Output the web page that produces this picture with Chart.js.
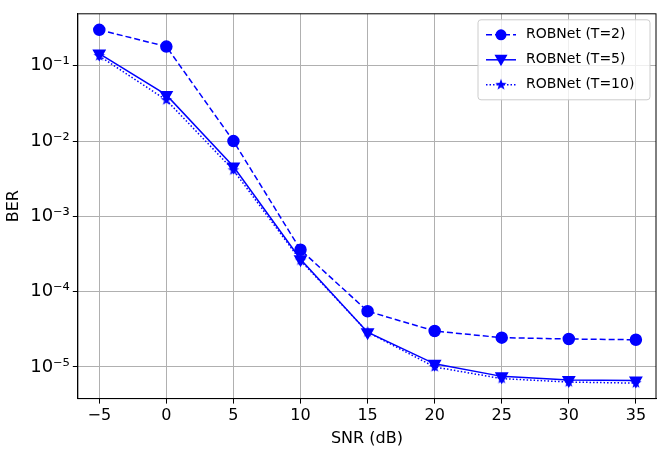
<!DOCTYPE html>
<html><head><script src="https://cdn.jsdelivr.net/npm/chart.js@4"></script>
<style>body{margin:0;background:#fff}#w{width:664px;height:452px}</style></head>
<body><div id="w"><canvas id="c"></canvas></div>
<script>
const snr=[-5,0,5,10,15,20,25,30,35];
const berT2=[0.30,0.18,0.010,3.6e-4,5.5e-5,3.0e-5,2.45e-5,2.35e-5,2.3e-5];
const berT5=[0.145,0.041,4.6e-3,2.7e-4,2.9e-5,1.1e-5,7.5e-6,6.7e-6,6.6e-6];
const berT10=[0.135,0.035,4.1e-3,2.6e-4,2.9e-5,1.0e-5,7.0e-6,6.3e-6,6.1e-6];
const labels=['ROBNet (T=2)','ROBNet (T=5)','ROBNet (T=10)'];
const blue='#0000ff';
function star(r){const c=document.createElement('canvas');c.width=c.height=2*r+2;const g=c.getContext('2d');g.fillStyle=blue;g.beginPath();
for(let i=0;i<10;i++){const a=-Math.PI/2+i*Math.PI/5,rr=i%2?r*0.4:r;g.lineTo(r+1+rr*Math.cos(a),r+1+rr*Math.sin(a));}g.closePath();g.fill();return c;}
const starImg=star(6);
const mk=(a)=>a.map((v,i)=>({x:snr[i],y:v}));
const sup={'-':'⁻','0':'⁰','1':'¹','2':'²','3':'³','4':'⁴','5':'⁵','6':'⁶'};
const ds=[
{label:labels[0],data:mk(berT2),borderDash:[6,3],pointStyle:'circle',pointRadius:5.5},
{label:labels[1],data:mk(berT5),borderDash:[],pointStyle:'triangle',rotation:180,pointRadius:6.5},
{label:labels[2],data:mk(berT10),borderDash:[1.5,2],pointStyle:starImg,pointRadius:6}
].map(d=>Object.assign({borderColor:blue,backgroundColor:blue,borderWidth:1.5,pointBorderColor:blue,pointBackgroundColor:blue},d));
const legendPlugin={id:'lg',afterDraw(ch){const g=ch.ctx,a=ch.chartArea;
g.save();g.strokeStyle='#000';g.lineWidth=1;g.strokeRect(a.left,a.top,a.right-a.left,a.bottom-a.top);
const x0=a.right-178,y0=a.top+6,w=172,h=80;
g.fillStyle='rgba(255,255,255,0.8)';g.strokeStyle='#ccc';g.beginPath();g.roundRect(x0,y0,w,h,3);g.fill();g.stroke();
g.font='14px "DejaVu Sans"';g.textBaseline='middle';
ds.forEach((d,i)=>{const y=y0+15+i*25;g.strokeStyle=blue;g.lineWidth=1.5;g.setLineDash(d.borderDash);g.beginPath();g.moveTo(x0+8,y);g.lineTo(x0+38,y);g.stroke();g.setLineDash([]);
g.fillStyle=blue;const cx=x0+23;
if(i==0){g.beginPath();g.arc(cx,y,5.5,0,7);g.fill();}else if(i==1){g.beginPath();g.moveTo(cx-6.5,y-5);g.lineTo(cx+6.5,y-5);g.lineTo(cx,y+6.5);g.fill();}else g.drawImage(starImg,cx-7,y-7);
g.fillStyle='#000';g.fillText(d.label,x0+48,y);});g.restore();}};
new Chart(document.getElementById('c'),{type:'line',data:{datasets:ds},plugins:[legendPlugin],
options:{responsive:true,maintainAspectRatio:false,animation:false,layout:{padding:{top:-4,right:3,left:0,bottom:0}},
plugins:{legend:{display:false},tooltip:{enabled:false}},
scales:{x:{type:'linear',min:-6.6,max:36.5,afterBuildTicks(s){s.ticks=snr.map(v=>({value:v}));},
ticks:{color:'#000',font:{size:16,family:'DejaVu Sans'},callback:v=>String(v).replace('-','−')},
grid:{color:'#b0b0b0',tickColor:'#000',tickLength:5},border:{color:'#000'},
title:{display:true,text:'SNR (dB)',color:'#000',font:{size:16,family:'DejaVu Sans'},padding:{top:0}}},
y:{type:'logarithmic',min:3.8e-6,max:0.49,afterBuildTicks(s){s.ticks=[1e-5,1e-4,1e-3,1e-2,1e-1].map(v=>({value:v}));},
ticks:{color:'#000',font:{size:18,family:'DejaVu Sans'},callback:v=>'10'+String(Math.round(Math.log10(v))).split('').map(c=>sup[c]).join('')},
grid:{color:'#b0b0b0',tickColor:'#000',tickLength:5},border:{color:'#000'},
title:{display:true,text:'BER',color:'#000',font:{size:16,family:'DejaVu Sans'}}}}}});
</script></body></html>
